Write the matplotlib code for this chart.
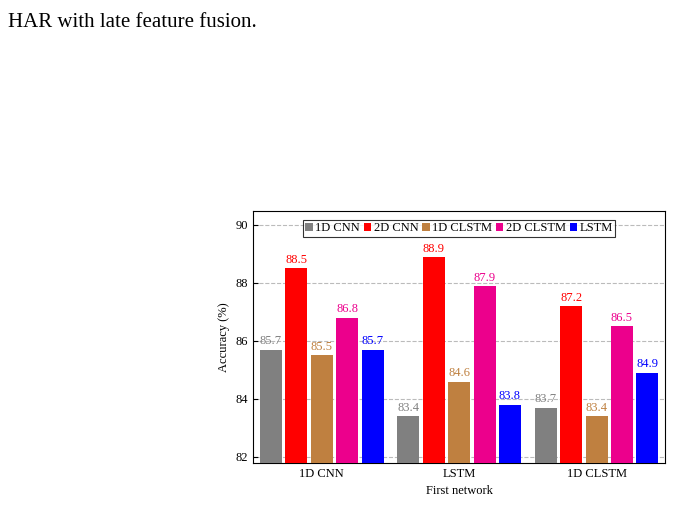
import matplotlib.pyplot as plt
import numpy as np

plt.rcParams['font.family'] = ['Liberation Serif', 'DejaVu Serif']

groups = ['1D CNN', 'LSTM', '1D CLSTM']
series = ['1D CNN', '2D CNN', '1D CLSTM', '2D CLSTM', 'LSTM']
values = [
    [85.7, 83.4, 83.7],
    [88.5, 88.9, 87.2],
    [85.5, 84.6, 83.4],
    [86.8, 87.9, 86.5],
    [85.7, 83.8, 84.9],
]
colors = ['#808080', '#ff0000', '#bf8040', '#ec008c', '#0000ff']

fig = plt.figure(figsize=(6.93, 5.11), dpi=100)
fig.text(0.012, 0.955, 'HAR with late feature fusion.', fontsize=15, ha='left', va='center')
ax = fig.add_axes([0.365, 0.094, 0.595, 0.493])

x = np.arange(len(groups))
w = 0.16
step = 0.185
for i, (name, vals, c) in enumerate(zip(series, values, colors)):
    pos = x + (i - 2) * step
    ax.bar(pos, vals, width=w, color=c, label=name, zorder=3)
    for p, v in zip(pos, vals):
        ax.text(p, v + 0.08, f'{v}', ha='center', va='bottom', color=c, fontsize=9, zorder=4)

ax.set_ylim(81.79, 90.48)
ax.set_xlim(-0.5, 2.5)
ax.set_yticks([82, 84, 86, 88, 90])
ax.set_xticks(x)
ax.set_xticklabels(groups)
ax.tick_params(labelsize=9, direction='in')
ax.grid(axis='y', linestyle='--', color='#bbbbbb', zorder=0)
ax.set_ylabel('Accuracy (%)', fontsize=9)
ax.set_xlabel('First network', fontsize=9)
leg = ax.legend(loc='upper center', ncol=5, fontsize=9, handlelength=0.6, handletextpad=0.2,
                columnspacing=0.3, borderpad=0.2, fancybox=False, edgecolor='black',
                bbox_to_anchor=(0.5, 0.99))
leg.get_frame().set_linewidth(0.8)
fig.savefig('out.png')
